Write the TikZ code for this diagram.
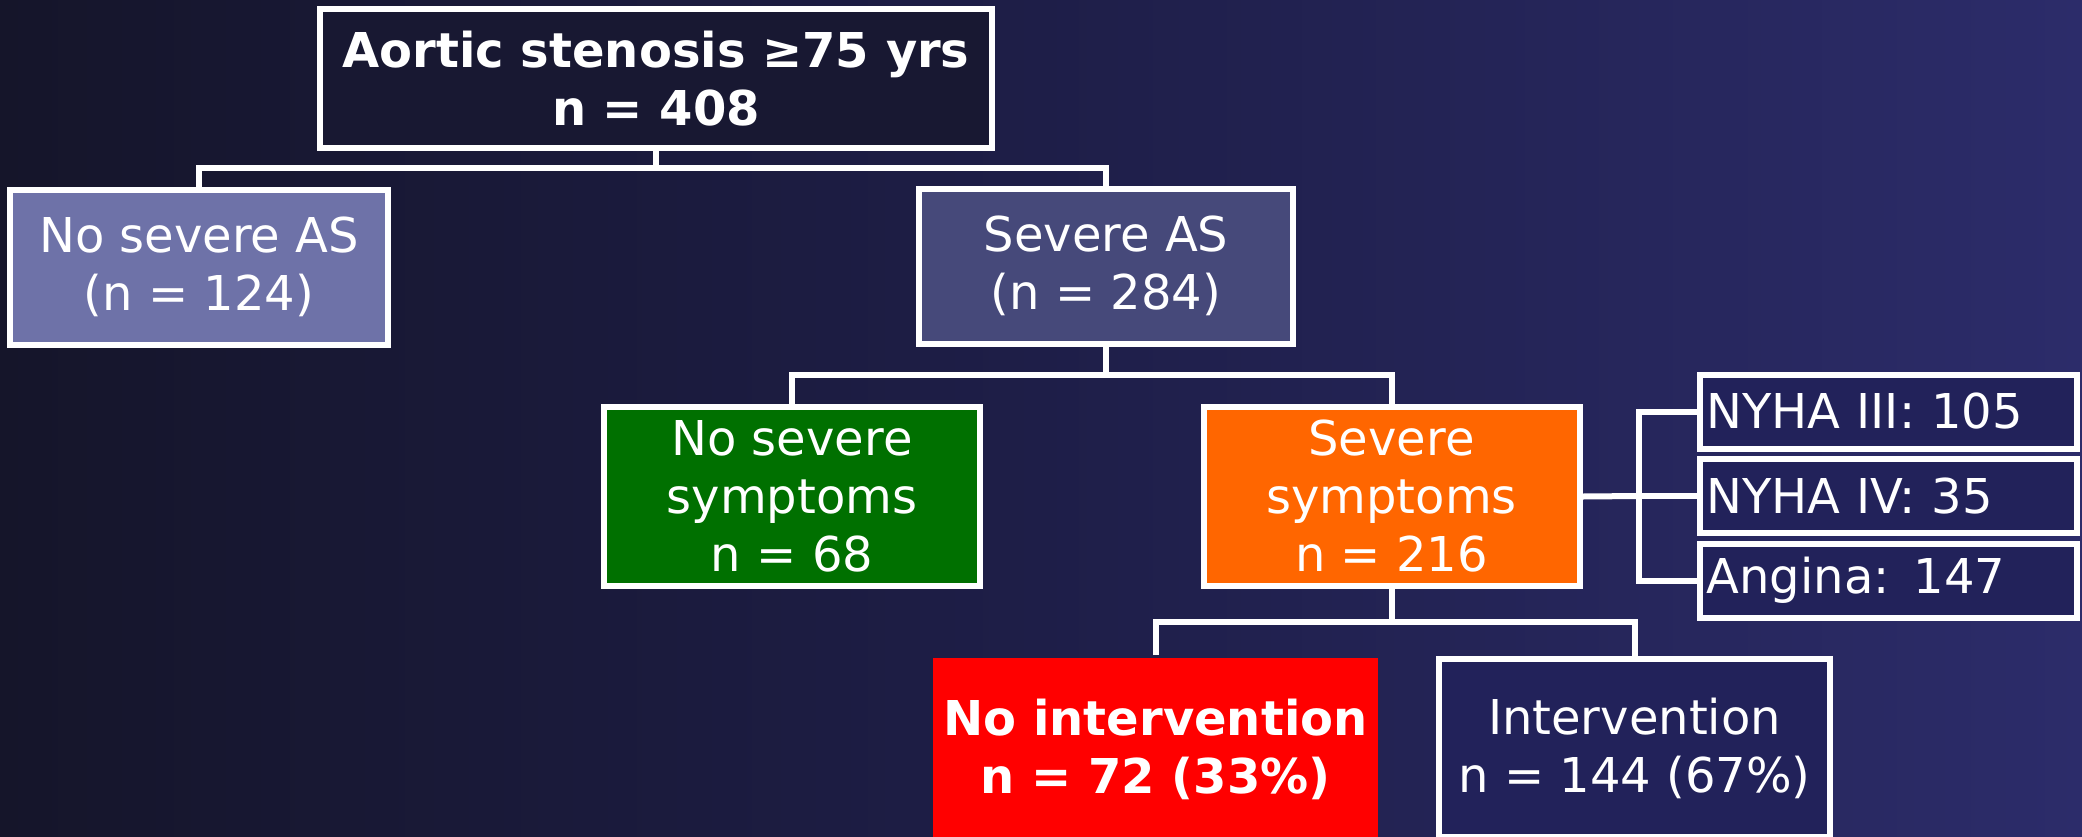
\documentclass[tikz,border=0pt]{standalone}
\usepackage{fontspec}
\setmainfont{DejaVu Sans}
\usetikzlibrary{calc}
\definecolor{bgL}{RGB}{21,21,42}
\definecolor{bgM}{RGB}{30,30,72}
\definecolor{bgR}{RGB}{44,44,106}
\definecolor{boxdark}{RGB}{24,24,50}
\definecolor{boxnavy}{RGB}{34,34,90}
\definecolor{lav}{RGB}{110,114,168}
\definecolor{slate}{RGB}{70,73,122}
\definecolor{grn}{RGB}{0,112,0}
\definecolor{orng}{RGB}{255,102,0}
\definecolor{redb}{RGB}{255,0,0}
\tikzset{
  box/.style={draw=white, line width=3pt, text=white, align=center, inner sep=0pt,
    font=\fontsize{24}{29}\selectfont},
  boldbox/.style={box, font=\fontsize{24}{29}\selectfont\bfseries},
  sidebox/.style={box, fill=boxnavy, minimum width=188.5pt, minimum height=37pt,
    text width=182pt, align=left},
  conn/.style={draw=white, line width=3pt, line join=miter},
}
\begin{document}
\begin{tikzpicture}[x=0.5pt,y=-0.5pt]
\useasboundingbox (0,0) rectangle (2082,836);
\shade[left color=bgL, right color=bgR, middle color=bgM] (0,0) rectangle (2082,836);

\node[boldbox, fill=boxdark, minimum width=336pt, minimum height=69.5pt] (top) at (656,78.5)
  {Aortic stenosis ≥75 yrs\\n = 408};
\node[box, fill=lav, minimum width=189pt, minimum height=77.5pt] (nosev) at (199,267)
  {No severe AS\\(n = 124)};
\node[box, fill=slate, minimum width=187pt, minimum height=77.5pt] (sev) at (1106,266)
  {Severe AS\\(n = 284)};
\node[box, fill=grn, minimum width=188pt, minimum height=89.5pt] (nosym) at (792,496.5)
  {No severe\\symptoms\\n = 68};
\node[box, fill=orng, minimum width=188pt, minimum height=89.5pt] (sym) at (1391.5,496.5)
  {Severe\\symptoms\\n = 216};
\node[sidebox] (nyha3) at (1888.5,411.5) {NYHA III: 105};
\node[sidebox] (nyha4) at (1888.5,496) {NYHA IV: 35};
\node[sidebox] (angina) at (1888.5,580.5) {Angina: 147};
\node[boldbox, draw=none, fill=redb, minimum width=222.5pt, minimum height=91pt] (noint) at (1155.5,749)
  {No intervention\\n = 72 (33\%)};
\node[box, fill=boxnavy, minimum width=195.5pt, minimum height=89pt] (interv) at (1634.5,748)
  {Intervention\\n = 144 (67\%)};

\coordinate (j1) at (656,168);
\draw[conn] (top.south) -- (top.south |- j1);
\draw[conn] (nosev.north) -- (nosev.north |- j1) -- (sev.north |- j1) -- (sev.north);

\coordinate (j2) at (1106,375);
\draw[conn] (sev.south) -- (sev.south |- j2);
\draw[conn] (nosym.north) -- (nosym.north |- j2) -- (sym.north |- j2) -- (sym.north);

\coordinate (j3) at (1639,496);
\draw[conn] (sym.east) -- (j3);
\draw[conn] (nyha3.west) -- (nyha3.west -| j3) -- (angina.west -| j3) -- (angina.west);
\draw[conn] (j3) -- (nyha4.west);

\coordinate (j4) at (1391,622);
\draw[conn] (sym.south) -- (sym.south |- j4);
\draw[conn] (noint.north) -- (noint.north |- j4) -- (interv.north |- j4) -- (interv.north);
\end{tikzpicture}
\end{document}
